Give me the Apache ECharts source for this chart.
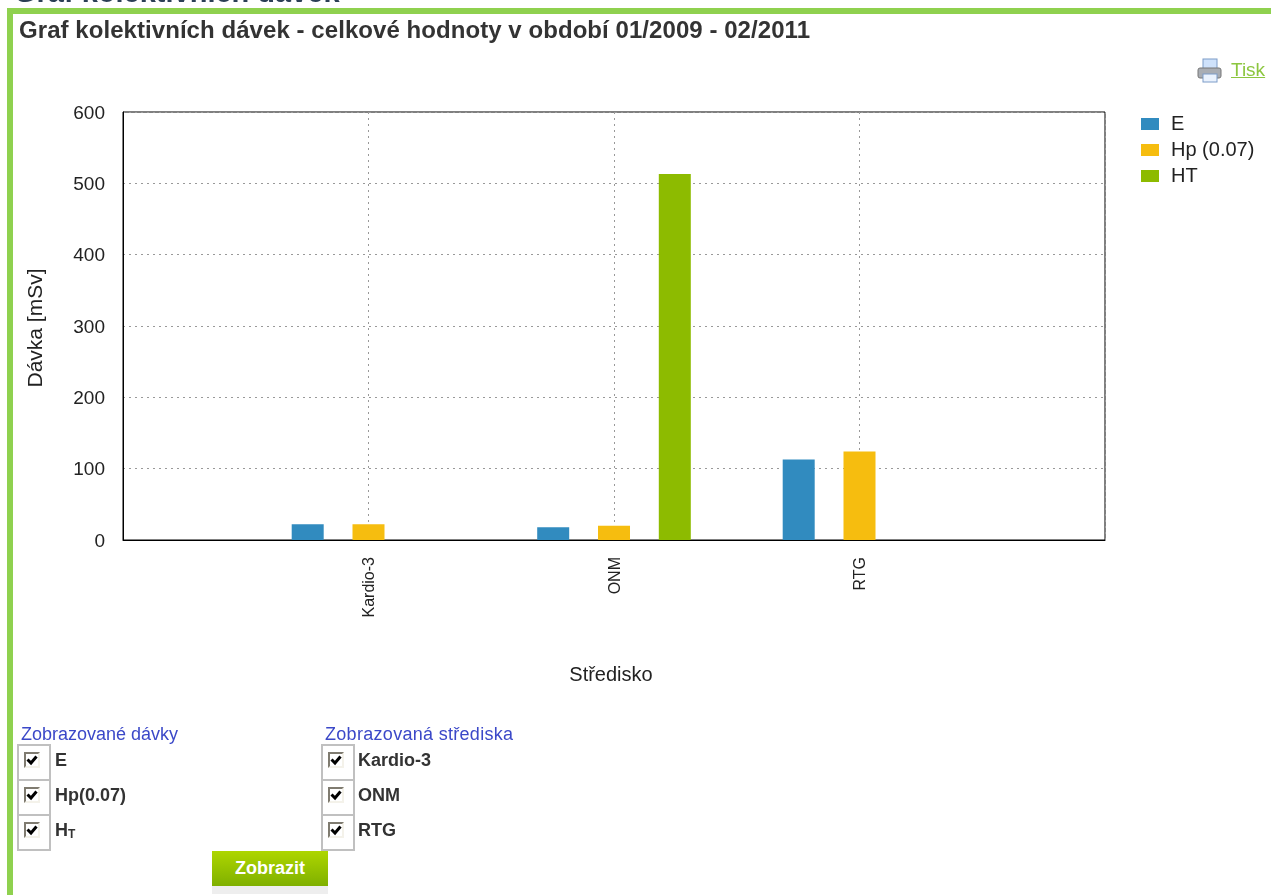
<!DOCTYPE html>
<html lang="cs"><head><meta charset="utf-8">
<title>Graf kolektivních dávek</title>
<script src="https://cdn.jsdelivr.net/npm/echarts@6/dist/echarts.min.js"></script>
<style>
html,body{margin:0;padding:0;background:#fff;overflow:hidden;width:1271px;height:895px;font-family:"Liberation Sans",Arial,sans-serif}
#chart{position:absolute;left:0;top:0;width:1271px;height:895px}
.a{position:absolute;white-space:nowrap}
.frameT{left:7px;top:8px;width:1264px;height:6px;background:#8fd14f}
.frameL{left:7px;top:8px;width:6px;height:887px;background:#8fd14f}
.head{left:14px;top:-24px;font-size:29px;font-weight:bold;color:#2b3f55;line-height:32px}
.title{left:19px;top:18px;font-size:24px;letter-spacing:.06px;font-weight:bold;color:#333;line-height:24px}
.tisk{left:1231px;top:60px;font-size:19px;color:#8cc63f;text-decoration:underline;line-height:20px}
.lab{font-size:18px;color:#3b48c8;line-height:20px}
.box{width:30px;height:33px;border:2px solid #c0c0c0;background:#fff;box-sizing:content-box}
.box input{position:absolute;left:5px;top:6px;margin:0;width:16px;height:16px;appearance:none;-webkit-appearance:none;box-sizing:border-box;border:2px solid;border-color:#7f7b70 #f4f2ea #f4f2ea #7f7b70;
background:#fff url("data:image/svg+xml,%3Csvg xmlns='http://www.w3.org/2000/svg' viewBox='0 0 12 12'%3E%3Cpath d='M1.5 5.5L5 9L10.5 2.5' fill='none' stroke='%23000' stroke-width='3'/%3E%3C/svg%3E") center/12px no-repeat}
.cb{font-size:18px;font-weight:bold;color:#333;line-height:20px}
.btn{left:212px;top:851px;width:116px;height:35px;background:linear-gradient(#aed600,#7fb000);color:#fff;font-size:18px;font-weight:bold;text-align:center;line-height:35px}
.btnS{left:212px;top:886px;width:116px;height:8px;background:#eee}
</style></head><body>
<div id="chart"></div>
<div class="a head">Graf kolektivních dávek</div>
<div class="a frameT"></div><div class="a frameL"></div>
<div class="a title">Graf kolektivních dávek - celkové hodnoty v období 01/2009 - 02/2011</div>
<svg class="a" style="left:1197px;top:58px" width="26" height="26" viewBox="0 0 26 26">
<rect x="6" y="1" width="14" height="11" fill="#cfe2fb" stroke="#7d9cc8"/>
<rect x="1" y="10" width="23" height="10" rx="2" fill="#a9adb3" stroke="#777"/>
<rect x="6" y="16" width="14" height="8" fill="#eaf2fd" stroke="#7d9cc8"/></svg>
<div class="a tisk">Tisk</div>
<div class="a lab" style="left:21px;top:724px">Zobrazované dávky</div>
<div class="a lab" style="left:325px;top:724px;letter-spacing:.3px">Zobrazovaná střediska</div>
<div class="a box" style="left:17px;top:744px"><input type="checkbox" checked></div>
<div class="a box" style="left:17px;top:779px"><input type="checkbox" checked></div>
<div class="a box" style="left:17px;top:814px"><input type="checkbox" checked></div>
<div class="a box" style="left:321px;top:744px"><input type="checkbox" checked></div>
<div class="a box" style="left:321px;top:779px"><input type="checkbox" checked></div>
<div class="a box" style="left:321px;top:814px"><input type="checkbox" checked></div>
<div class="a cb" style="left:55px;top:750px">E</div>
<div class="a cb" style="left:55px;top:785px">Hp(0.07)</div>
<div class="a cb" style="left:55px;top:820px">H<span style="font-size:12px;vertical-align:-2px">T</span></div>
<div class="a cb" style="left:358px;top:750px">Kardio-3</div>
<div class="a cb" style="left:358px;top:785px">ONM</div>
<div class="a cb" style="left:358px;top:820px">RTG</div>
<div class="a btn">Zobrazit</div><div class="a btnS"></div>
<script>
const categories = ['', 'Kardio-3', 'ONM', 'RTG', ''];
const seriesE = [null, 22, 18, 113, null];
const seriesHp = [null, 22, 20, 124, null];
const seriesHT = [null, null, 513, null, null];
const chart = echarts.init(document.getElementById('chart'), null, {renderer:'canvas'});
const FONT = '"Liberation Sans",Arial,sans-serif';
const mk = (name, data, color) => ({name, type:'bar', data, barWidth:32, barGap:'90%', itemStyle:{color}, silent:true, animation:false});
chart.setOption({
  animation:false,
  grid:{left:123, top:112, width:982, height:428, show:true, borderColor:'#000', borderWidth:1, backgroundColor:'transparent', containLabel:false},
  legend:{orient:'vertical', left:1136, top:109, itemWidth:18, itemHeight:12, itemGap:6, selectedMode:false, icon:'rect',
    textStyle:{fontFamily:FONT, fontSize:20, color:'#222', padding:[0,0,0,7]}},
  xAxis:{type:'category', data:categories, boundaryGap:false,
    name:'Středisko', nameLocation:'middle', nameGap:125, nameTextStyle:{fontFamily:FONT, fontSize:20, color:'#222', padding:[0,6,0,0]},
    axisLine:{lineStyle:{color:'#000'}}, axisTick:{show:false},
    axisLabel:{rotate:90, margin:17, interval:0, color:'#222',
      formatter:v => v ? '{a|' + v + '}' : '',
      rich:{a:{fontFamily:FONT, fontSize:16, color:'#222', padding:[3,0,0,0]}}},
    splitLine:{show:true, interval:0, lineStyle:{type:[2,4], color:'#999'}}},
  yAxis:{type:'value', min:0, max:600, interval:100,
    name:'Dávka [mSv]', nameLocation:'middle', nameGap:76, nameTextStyle:{fontFamily:FONT, fontSize:21, color:'#222', padding:[0,4,0,0]},
    axisLine:{show:true, lineStyle:{color:'#000'}}, axisTick:{show:false},
    axisLabel:{margin:18, color:'#222', formatter:'{a|{value}}',
      rich:{a:{fontFamily:FONT, fontSize:19, color:'#222', padding:[3,0,0,0]}}},
    splitLine:{show:true, lineStyle:{type:[2,4], color:'#999'}}},
  series:[mk('E', seriesE, '#318bbf'), mk('Hp (0.07)', seriesHp, '#f6bd0f'), mk('HT', seriesHT, '#8dbb00')]
});
</script>
</body></html>
